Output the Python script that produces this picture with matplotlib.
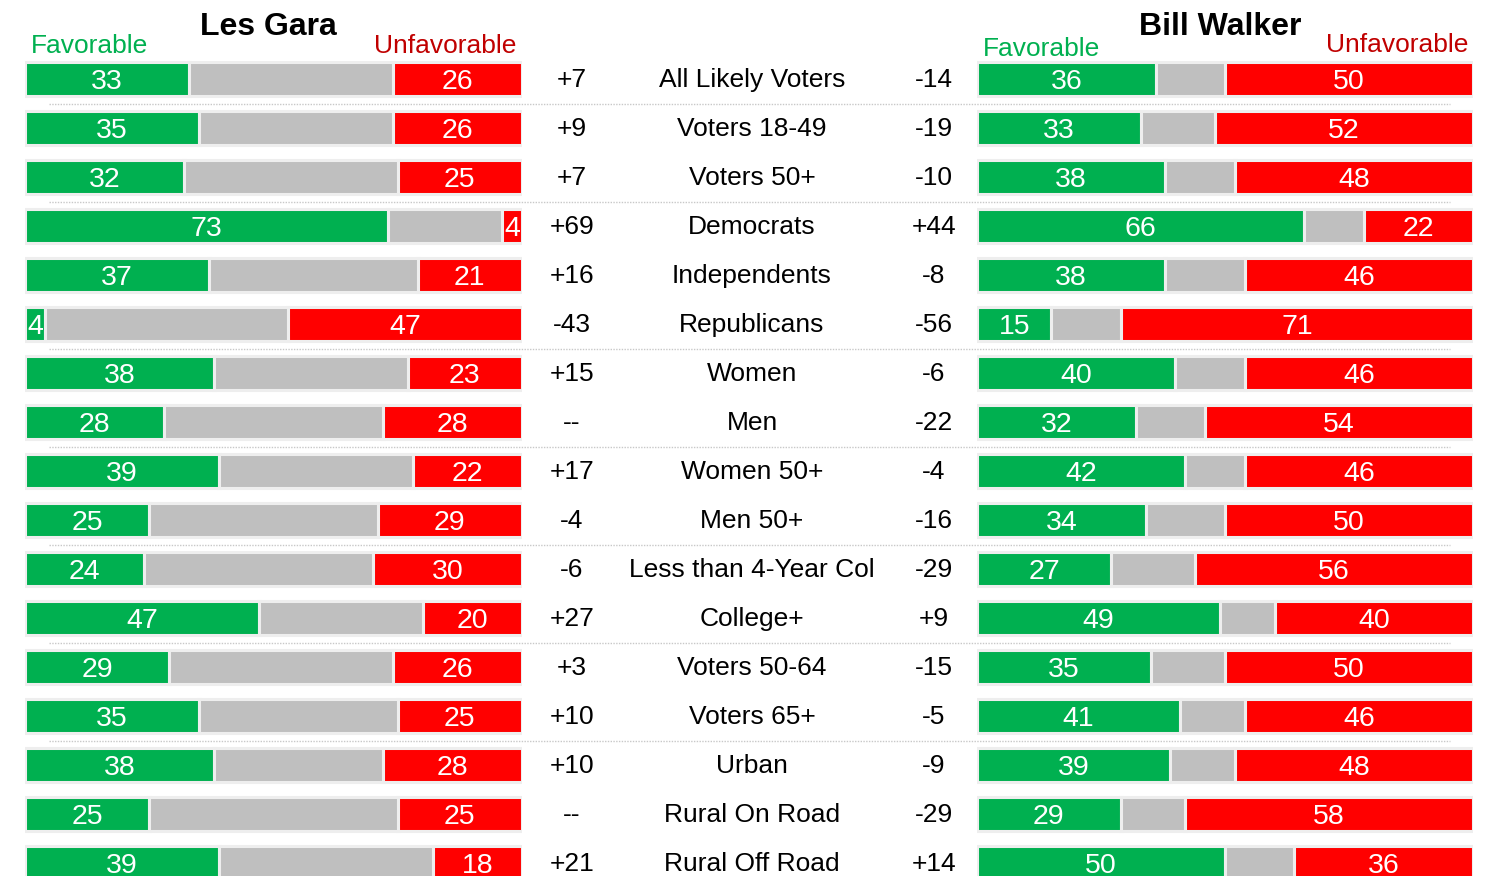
#!/usr/bin/env python3
import matplotlib
matplotlib.use("Agg")
import matplotlib.pyplot as plt

# --- Dados ---
CATEGORIAS = [
    "All Likely Voters", "Voters 18-49", "Voters 50+", "Democrats",
    "Independents", "Republicans", "Women", "Men", "Women 50+", "Men 50+",
    "Less than 4-Year Col", "College+", "Voters 50-64", "Voters 65+",
    "Urban", "Rural On Road", "Rural Off Road",
]
GARA_FAV = [33, 35, 32, 73, 37, 4, 38, 28, 39, 25, 24, 47, 29, 35, 38, 25, 39]
GARA_UNFAV = [26, 26, 25, 4, 21, 47, 23, 28, 22, 29, 30, 20, 26, 25, 28, 25, 18]
WALKER_FAV = [36, 33, 38, 66, 38, 15, 40, 32, 42, 34, 27, 49, 35, 41, 39, 29, 50]
WALKER_UNFAV = [50, 52, 48, 22, 46, 71, 46, 54, 46, 50, 56, 40, 50, 46, 48, 58, 36]
# separadores depois destas linhas
SEPARADORES = [0, 2, 5, 7, 9, 11, 13]

# --- Estilo ---
VERDE = "#00B050"
CINZA = "#BFBFBF"
VERMELHO = "#FF0000"
VERMELHO_ESCURO = "#C00000"
FONTE = ["Liberation Sans", "DejaVu Sans"]
W, H = 1494, 876
ALTURA_BARRA = 34 / 49
YLIM = ((H - 79) / 49, -79 / 49)

plt.rcParams["font.family"] = FONTE


def texto_net(fav, unfav):
    d = fav - unfav
    if d == 0:
        return "--"
    return f"{d:+d}"


def painel(ax, fav, unfav, titulo):
    rows = range(len(fav))
    neutro = [100 - f - u for f, u in zip(fav, unfav)]
    inicio_verm = [100 - u for u in unfav]
    kw = dict(height=ALTURA_BARRA, edgecolor="#eeeeee", linewidth=2.2)
    ax.barh(rows, fav, left=0, color=VERDE, **kw)
    ax.barh(rows, neutro, left=fav, color=CINZA, **kw)
    ax.barh(rows, unfav, left=inicio_verm, color=VERMELHO, **kw)
    for i, (f, u) in enumerate(zip(fav, unfav)):
        ax.text(f / 2, i + 0.07, str(f), color="white", fontsize=20.5,
                ha="center", va="center")
        ax.text(100 - u / 2, i + 0.07, str(u), color="white", fontsize=20.5,
                ha="center", va="center")
    ax.set_xlim(0, 100)
    ax.set_ylim(*YLIM)
    ax.axis("off")
    ax.text(49, -1.06, titulo, fontsize=23, fontweight="bold",
            ha="center", va="center", clip_on=False)


fig = plt.figure(figsize=(W / 100, H / 100), dpi=100)

# fundo: separadores e textos centrais
ax_bg = fig.add_axes([0, 0, 1, 1])
ax_bg.set_xlim(0, 1)
ax_bg.set_ylim(*YLIM)
ax_bg.axis("off")
for s in SEPARADORES:
    ax_bg.hlines(s + 0.5, 49 / W, 1450 / W, color="#c8c8c8",
                 linewidth=1, linestyles=(0, (1, 1)))
for i, cat in enumerate(CATEGORIAS):
    ax_bg.text(752 / W, i + 0.02, cat, fontsize=19, ha="center", va="center")
    ax_bg.text(572 / W, i + 0.02, texto_net(GARA_FAV[i], GARA_UNFAV[i]),
               fontsize=19, ha="center", va="center")
    ax_bg.text(934 / W, i + 0.02, texto_net(WALKER_FAV[i], WALKER_UNFAV[i]),
               fontsize=19, ha="center", va="center")

ax_l = fig.add_axes([25 / W, 0, 497 / W, 1])
ax_l.patch.set_alpha(0)
painel(ax_l, GARA_FAV, GARA_UNFAV, "Les Gara")
ax_l.text(1.2, -0.68, "Favorable", color=VERDE, fontsize=19,
          ha="left", va="center")
ax_l.text(98.8, -0.68, "Unfavorable", color=VERMELHO_ESCURO, fontsize=19,
          ha="right", va="center")

ax_r = fig.add_axes([977 / W, 0, 496 / W, 1])
ax_r.patch.set_alpha(0)
painel(ax_r, WALKER_FAV, WALKER_UNFAV, "Bill Walker")
ax_r.text(1.2, -0.62, "Favorable", color=VERDE, fontsize=19,
          ha="left", va="center")
ax_r.text(99, -0.70, "Unfavorable", color=VERMELHO_ESCURO, fontsize=19,
          ha="right", va="center")

fig.savefig("out.png", dpi=100)
plt.close(fig)
